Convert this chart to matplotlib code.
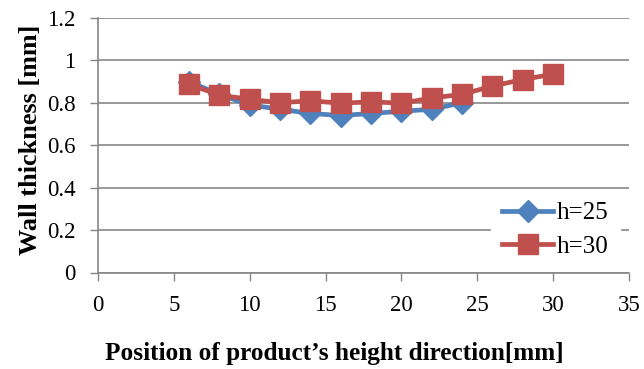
import matplotlib
matplotlib.use("Agg")
import matplotlib.pyplot as plt

# data
pos_25 = [6, 8, 10, 12, 14, 16, 18, 20, 22, 24]
wall_25 = [0.90, 0.84, 0.79, 0.77, 0.75, 0.74, 0.75, 0.76, 0.77, 0.80]
pos_30 = [6, 8, 10, 12, 14, 16, 18, 20, 22, 24, 26, 28, 30]
wall_30 = [0.888, 0.836, 0.817, 0.80, 0.81, 0.798, 0.805, 0.798, 0.823, 0.84, 0.879, 0.91, 0.935]

plt.rcParams['font.family'] = ['Liberation Serif', 'DejaVu Serif']

fig = plt.figure(figsize=(6.44, 3.69), dpi=100)
ax = fig.add_axes([98 / 644, 1 - 272.5 / 369, 531 / 644, 254.5 / 369])

ax.plot(pos_25, wall_25, color='#4F81BD', lw=3.4, marker='D', markersize=11, label='h=25', zorder=3)
ax.plot(pos_30, wall_30, color='#C0504D', lw=3.4, marker='s', markersize=14, label='h=30', zorder=4)

ax.set_xlim(0, 35)
ax.set_ylim(0, 1.2)
ax.set_xticks(range(0, 36, 5))
ax.set_yticks([0, 0.2, 0.4, 0.6, 0.8, 1.0, 1.2])
ax.set_yticklabels(['0', '0.2', '0.4', '0.6', '0.8', '1', '1.2'])
ax.tick_params(labelsize=16.5, colors='#868686', labelcolor='black', length=6, width=1)
ax.tick_params(axis='y', pad=10)
ax.tick_params(axis='x', pad=10)
ax.yaxis.grid(True, color='#868686', lw=1.2)
ax.set_axisbelow(True)
for s in ['top', 'right']:
    ax.spines[s].set_visible(False)
for s in ['left', 'bottom']:
    ax.spines[s].set_color('#868686')
    ax.spines[s].set_linewidth(1.2)

ax.set_xlabel('Position of product\u2019s height direction[mm]', fontsize=18.2, fontweight='bold', labelpad=19)
ax.xaxis.label.set_x((334 - 98) / 531)
ax.set_ylabel('Wall thickness [mm]', fontsize=18.9, fontweight='bold', labelpad=4)
ax.yaxis.label.set_y((272.5 - 140) / 254.5)

leg = ax.legend(loc='center left', bbox_to_anchor=(491 / 644, 1 - 230 / 369), bbox_transform=fig.transFigure,
                fontsize=18, frameon=True, handlelength=2.04, handletextpad=0.16,
                borderpad=0.44, labelspacing=0.45, borderaxespad=0, fancybox=False)
leg.get_frame().set_edgecolor('white')
leg.get_frame().set_facecolor('white')
leg.get_frame().set_alpha(1)

fig.savefig('out.png', dpi=100)
